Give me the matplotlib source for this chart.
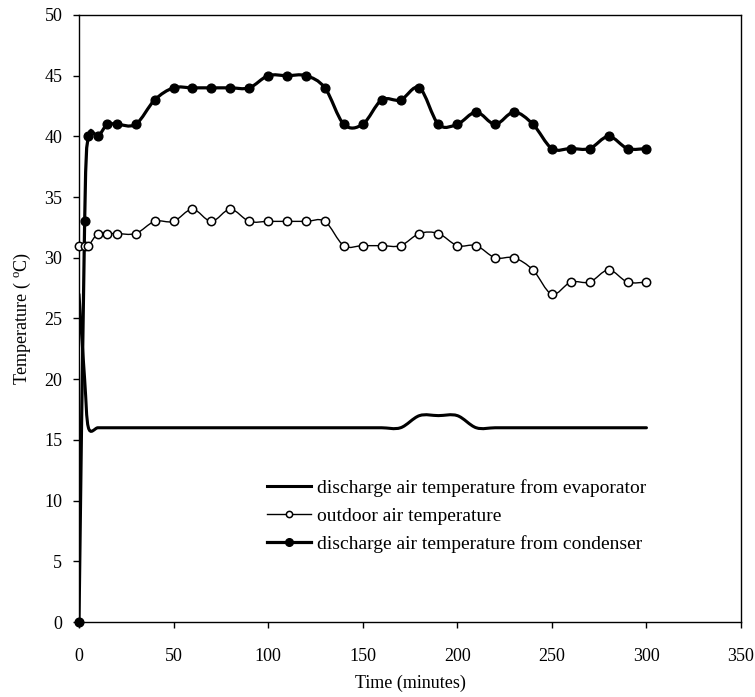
import numpy as np
import matplotlib
matplotlib.use("Agg")
import matplotlib.pyplot as plt
from matplotlib.path import Path
from matplotlib.patches import PathPatch
from matplotlib.lines import Line2D

# time axis (minutes)
time = [0, 3, 5, 10, 15, 20, 30, 40, 50, 60, 70, 80, 90, 100, 110, 120, 130,
        140, 150, 160, 170, 180, 190, 200, 210, 220, 230, 240, 250, 260, 270,
        280, 290, 300]

evaporator = [27, 20, 16, 16, 16, 16, 16, 16, 16, 16, 16, 16, 16, 16, 16, 16, 16,
              16, 16, 16, 16, 17, 17, 17, 16, 16, 16, 16, 16, 16, 16,
              16, 16, 16]

outdoor = [31, 31, 31, 32, 32, 32, 32, 33, 33, 34, 33, 34, 33, 33, 33, 33, 33,
           31, 31, 31, 31, 32, 32, 31, 31, 30, 30, 29, 27, 28, 28,
           29, 28, 28]

condenser = [0, 33, 40, 40, 41, 41, 41, 43, 44, 44, 44, 44, 44, 45, 45, 45, 44,
             41, 41, 43, 43, 44, 41, 41, 42, 41, 42, 41, 39, 39, 39,
             40, 39, 39]

labels = ["discharge air temperature from evaporator",
          "outdoor air temperature",
          "discharge air temperature from condenser"]


def smooth_path(x, y):
    """Excel-like smoothed line: Catmull-Rom segments as cubic Beziers."""
    pts = np.column_stack([x, y]).astype(float)
    ext = np.vstack([pts[0], pts, pts[-1]])
    verts = [pts[0]]
    codes = [Path.MOVETO]
    for i in range(1, len(ext) - 2):
        p0, p1, p2, p3 = ext[i - 1], ext[i], ext[i + 1], ext[i + 2]
        verts += [p1 + (p2 - p0) / 6, p2 - (p3 - p1) / 6, p2]
        codes += [Path.CURVE4] * 3
    return Path(verts, codes)


plt.rcParams["font.family"] = ["Liberation Serif", "DejaVu Serif"]
plt.rcParams["font.size"] = 13

fig = plt.figure(figsize=(7.55, 6.97), dpi=100)
ax = fig.add_axes([0.1046, 0.1076, 0.8769, 0.8709])

ax.add_patch(PathPatch(smooth_path(time, evaporator), fill=False,
                       lw=2.2, color="black", capstyle="round", zorder=3))
ax.add_patch(PathPatch(smooth_path(time, outdoor), fill=False,
                       lw=1.0, color="black", zorder=3))
ax.add_patch(PathPatch(smooth_path(time, condenser), fill=False,
                       lw=2.3, color="black", zorder=3))

ax.plot(time, outdoor, linestyle="none", marker="o", markersize=6,
        markerfacecolor="white", markeredgecolor="black", markeredgewidth=1.1,
        zorder=4, clip_on=False)
ax.plot(time, condenser, linestyle="none", marker="o", markersize=6.3,
        color="black", zorder=5, clip_on=False)

ax.set_xlim(0, 350)
ax.set_ylim(0, 50)
ax.set_xticks(np.arange(0, 351, 50))
ax.set_yticks(np.arange(0, 51, 5))
ax.tick_params(direction="out", length=4, width=1, labelsize=13)
ax.tick_params(axis="x", pad=15)
ax.tick_params(axis="y", pad=8)
for sp in ax.spines.values():
    sp.set_linewidth(1.0)

ax.set_xlabel("Time (minutes)", fontsize=13, labelpad=7)
ax.set_ylabel("Temperature ( $\\mathregular{^{o}}$C)", fontsize=13, labelpad=8)

handles = [
    Line2D([], [], color="black", lw=2.2),
    Line2D([], [], color="black", lw=1.0, marker="o", markersize=4.5,
           markerfacecolor="white", markeredgewidth=1.1),
    Line2D([], [], color="black", lw=2.3, marker="o", markersize=5.5),
]
ax.legend(handles, labels, loc="upper left", bbox_to_anchor=(0.284, 0.236),
          frameon=False, handlelength=2.27, handletextpad=0.3,
          labelspacing=0.53, fontsize=14, borderpad=0, borderaxespad=0)

fig.savefig("out.png", dpi=100)
